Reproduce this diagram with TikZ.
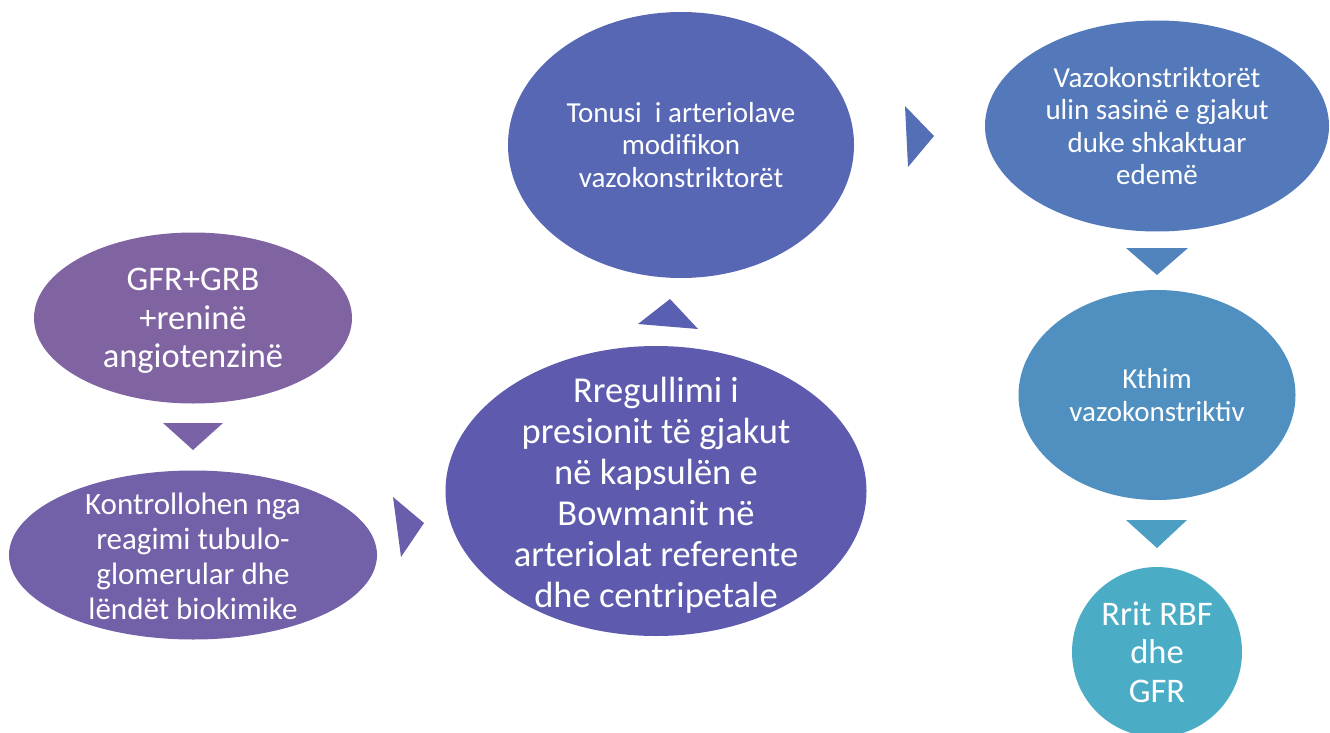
\documentclass[tikz,border=0pt]{standalone}
\usepackage{fontspec}
\setmainfont{Carlito}
\usetikzlibrary{shapes.geometric}

% SmartArt-like gradient from purple to teal
\definecolor{col0}{HTML}{8064A2}
\definecolor{col1}{HTML}{7962A5}
\definecolor{col2}{HTML}{7260A8}
\definecolor{col3}{HTML}{695EAB}
\definecolor{col4}{HTML}{5E5BAE}
\definecolor{col5}{HTML}{595FB1}
\definecolor{col6}{HTML}{5767B4}
\definecolor{col7}{HTML}{556FB7}
\definecolor{col8}{HTML}{5379BA}
\definecolor{col9}{HTML}{5184BD}
\definecolor{col10}{HTML}{4F90C0}
\definecolor{col11}{HTML}{4D9EC3}
\definecolor{col12}{HTML}{4BACC6}

\begin{document}
\begin{tikzpicture}[x=1pt, y=-1pt,
    bubble/.style={ellipse, draw=none, inner sep=0pt},
    txt/.style={text=white, align=center, inner sep=0pt},
    big/.style={font=\fontsize{36.5}{41}\selectfont},
    mid/.style={font=\fontsize{34.5}{38.5}\selectfont},
    small/.style={font=\fontsize{29}{32.5}\selectfont}
]
\useasboundingbox (0,0) rectangle (1330,733);

% bubbles
\node [bubble, fill=col0, minimum width=318, minimum height=171] (gfr) at (193,318) {};
\node [bubble, fill=col2, minimum width=368, minimum height=169] (kontroll) at (193,555) {};
\node [bubble, fill=col4, minimum width=421, minimum height=290] (rregull) at (656,491) {};
\node [bubble, fill=col6, minimum width=346, minimum height=266] (tonus) at (681,145) {};
\node [bubble, fill=col8, minimum width=344, minimum height=211] (vazo) at (1157,126) {};
\node [bubble, fill=col10, minimum width=277, minimum height=210] (kthim) at (1157,395) {};
\node [bubble, fill=col12, minimum width=170, minimum height=170] (rrit) at (1157,652) {};

% texts
\node [txt, mid] (gfr-t) at ([yshift=-3]gfr) {GFR+GRB\\+reninë\\angiotenzinë};
\node [txt, font=\fontsize{31}{35}\selectfont] (kontroll-t) at ([yshift=-1]kontroll) {Kontrollohen nga\\reagimi tubulo-\\glomerular dhe\\lëndët biokimike};
\node [txt, big] (rregull-t) at ([yshift=-4]rregull) {Rregullimi i\\presionit të gjakut\\në kapsulën e\\Bowmanit në\\arteriolat referente\\dhe centripetale};
\node [txt, small] (tonus-t) at (tonus) {Tonusi\ \ i arteriolave\\modifikon\\vazokonstriktorët};
\node [txt, small] (vazo-t) at (vazo) {Vazokonstriktorët\\ulin sasinë e gjakut\\duke shkaktuar\\edemë};
\node [txt, small] (kthim-t) at (kthim) {Kthim\\vazokonstriktiv};
\node [txt, mid] (rrit-t) at (rrit) {Rrit RBF\\dhe\\GFR};

% triangles between the bubbles
\fill [col1] (163,423) -- (223,423) -- (193,450) -- cycle;
\fill [col3] (393,497) -- (424,523) -- (401,557) -- cycle;
\fill [col5] (638,324) -- (670,299) -- (698,329) -- cycle;
\fill [col7] (905,106) -- (934,136) -- (908,167) -- cycle;
\fill [col9] (1126,248) -- (1188,248) -- (1157,275) -- cycle;
\fill [col11] (1126,520) -- (1187,520) -- (1157,548) -- cycle;

\end{tikzpicture}
\end{document}
